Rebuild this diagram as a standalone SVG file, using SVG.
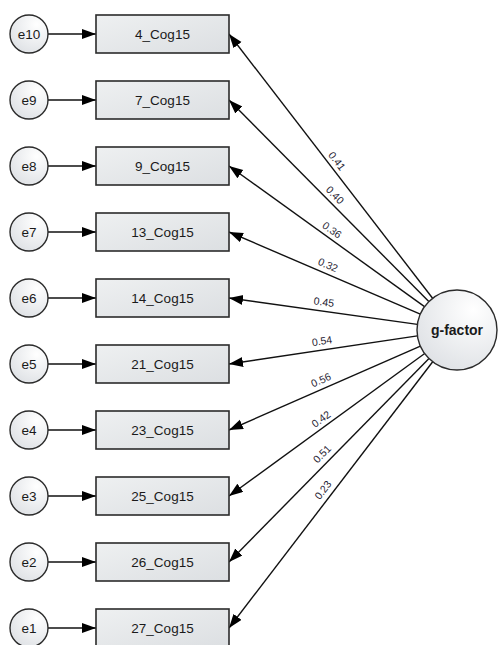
<svg xmlns="http://www.w3.org/2000/svg" width="500" height="645" viewBox="0 0 500 645">
<defs>
<linearGradient id="boxg" x1="0" y1="0" x2="1" y2="1">
<stop offset="0" stop-color="#eef0f1"/>
<stop offset="1" stop-color="#dcdfe2"/>
</linearGradient>
<radialGradient id="circg" cx="0.7" cy="0.25" r="0.9">
<stop offset="0" stop-color="#ffffff"/>
<stop offset="1" stop-color="#dcdfe3"/>
</radialGradient>
<marker id="arr" markerUnits="userSpaceOnUse" markerWidth="15" markerHeight="11" refX="14" refY="5" orient="auto">
<path d="M0,0 L14,5 L0,10 z" fill="#000"/>
</marker>
</defs>
<style>
.box{fill:url(#boxg);stroke:#2b2b2b;stroke-width:1.6}
.circ{fill:url(#circg);stroke:#2b2b2b;stroke-width:1.4}
.lbl{font-family:"Liberation Sans",Arial,sans-serif;font-size:13.5px;fill:#1a1a1a;text-anchor:middle}
.big{font-family:"Liberation Sans",Arial,sans-serif;font-size:14px;font-weight:bold;fill:#1a1a1a;text-anchor:middle}
.coef{font-family:"Liberation Sans",Arial,sans-serif;font-size:10.5px;fill:#1f2433;text-anchor:middle}
.con{stroke:#111;stroke-width:1.4;fill:none;marker-end:url(#arr)}
</style>
<rect width="500" height="645" fill="#fff"/>
<g id="connectors">
<line class="con" x1="48" y1="34" x2="96" y2="34"/>
<line class="con" x1="48" y1="100" x2="96" y2="100"/>
<line class="con" x1="48" y1="166" x2="96" y2="166"/>
<line class="con" x1="48" y1="232" x2="96" y2="232"/>
<line class="con" x1="48" y1="298" x2="96" y2="298"/>
<line class="con" x1="48" y1="364" x2="96" y2="364"/>
<line class="con" x1="48" y1="430" x2="96" y2="430"/>
<line class="con" x1="48" y1="496" x2="96" y2="496"/>
<line class="con" x1="48" y1="562" x2="96" y2="562"/>
<line class="con" x1="48" y1="628" x2="96" y2="628"/>
<line class="con" x1="432.6" y1="298.3" x2="229" y2="34"/>
<line class="con" x1="428.8" y1="301.6" x2="229" y2="100"/>
<line class="con" x1="424.5" y1="306.6" x2="229" y2="166"/>
<line class="con" x1="420.3" y1="314.2" x2="229" y2="232"/>
<line class="con" x1="417.4" y1="324.4" x2="229" y2="298"/>
<line class="con" x1="417.4" y1="335.9" x2="229" y2="364"/>
<line class="con" x1="420.4" y1="346.1" x2="229" y2="430"/>
<line class="con" x1="424.7" y1="353.5" x2="229" y2="496"/>
<line class="con" x1="429.0" y1="358.5" x2="229" y2="562"/>
<line class="con" x1="432.7" y1="361.8" x2="229" y2="628"/>
<text class="coef" x="337" y="161" dy="0.35em" transform="rotate(52.4 337 161)">0.41</text>
<text class="coef" x="335" y="195" dy="0.35em" transform="rotate(45.2 335 195)">0.40</text>
<text class="coef" x="332" y="230" dy="0.35em" transform="rotate(35.7 332 230)">0.36</text>
<text class="coef" x="328" y="265" dy="0.35em" transform="rotate(23.3 328 265)">0.32</text>
<text class="coef" x="324" y="302" dy="0.35em" transform="rotate(8 324 302)">0.45</text>
<text class="coef" x="322" y="341" dy="0.35em" transform="rotate(-8.5 322 341)">0.54</text>
<text class="coef" x="321" y="380" dy="0.35em" transform="rotate(-23.7 321 380)">0.56</text>
<text class="coef" x="321" y="419" dy="0.35em" transform="rotate(-36.1 321 419)">0.42</text>
<text class="coef" x="322" y="454" dy="0.35em" transform="rotate(-45.5 322 454)">0.51</text>
<text class="coef" x="323" y="490" dy="0.35em" transform="rotate(-52.6 323 490)">0.23</text>
</g>
<g id="e10"><circle class="circ" cx="29" cy="34" r="19"/><text class="lbl" x="29" y="39">e10</text></g>
<g id="e9"><circle class="circ" cx="29" cy="100" r="19"/><text class="lbl" x="29" y="105">e9</text></g>
<g id="e8"><circle class="circ" cx="29" cy="166" r="19"/><text class="lbl" x="29" y="171">e8</text></g>
<g id="e7"><circle class="circ" cx="29" cy="232" r="19"/><text class="lbl" x="29" y="237">e7</text></g>
<g id="e6"><circle class="circ" cx="29" cy="298" r="19"/><text class="lbl" x="29" y="303">e6</text></g>
<g id="e5"><circle class="circ" cx="29" cy="364" r="19"/><text class="lbl" x="29" y="369">e5</text></g>
<g id="e4"><circle class="circ" cx="29" cy="430" r="19"/><text class="lbl" x="29" y="435">e4</text></g>
<g id="e3"><circle class="circ" cx="29" cy="496" r="19"/><text class="lbl" x="29" y="501">e3</text></g>
<g id="e2"><circle class="circ" cx="29" cy="562" r="19"/><text class="lbl" x="29" y="567">e2</text></g>
<g id="e1"><circle class="circ" cx="29" cy="628" r="19"/><text class="lbl" x="29" y="633">e1</text></g>
<g id="v4"><rect class="box" x="96" y="15" width="133" height="38"/><text class="lbl" x="162.5" y="39">4_Cog15</text></g>
<g id="v7"><rect class="box" x="96" y="81" width="133" height="38"/><text class="lbl" x="162.5" y="105">7_Cog15</text></g>
<g id="v9"><rect class="box" x="96" y="147" width="133" height="38"/><text class="lbl" x="162.5" y="171">9_Cog15</text></g>
<g id="v13"><rect class="box" x="96" y="213" width="133" height="38"/><text class="lbl" x="162.5" y="237">13_Cog15</text></g>
<g id="v14"><rect class="box" x="96" y="279" width="133" height="38"/><text class="lbl" x="162.5" y="303">14_Cog15</text></g>
<g id="v21"><rect class="box" x="96" y="345" width="133" height="38"/><text class="lbl" x="162.5" y="369">21_Cog15</text></g>
<g id="v23"><rect class="box" x="96" y="411" width="133" height="38"/><text class="lbl" x="162.5" y="435">23_Cog15</text></g>
<g id="v25"><rect class="box" x="96" y="477" width="133" height="38"/><text class="lbl" x="162.5" y="501">25_Cog15</text></g>
<g id="v26"><rect class="box" x="96" y="543" width="133" height="38"/><text class="lbl" x="162.5" y="567">26_Cog15</text></g>
<g id="v27"><rect class="box" x="96" y="609" width="133" height="38"/><text class="lbl" x="162.5" y="633">27_Cog15</text></g>
<g id="gfactor"><circle class="circ" cx="457" cy="330" r="40"/><text class="big" x="457" y="335">g-factor</text></g>
</svg>
